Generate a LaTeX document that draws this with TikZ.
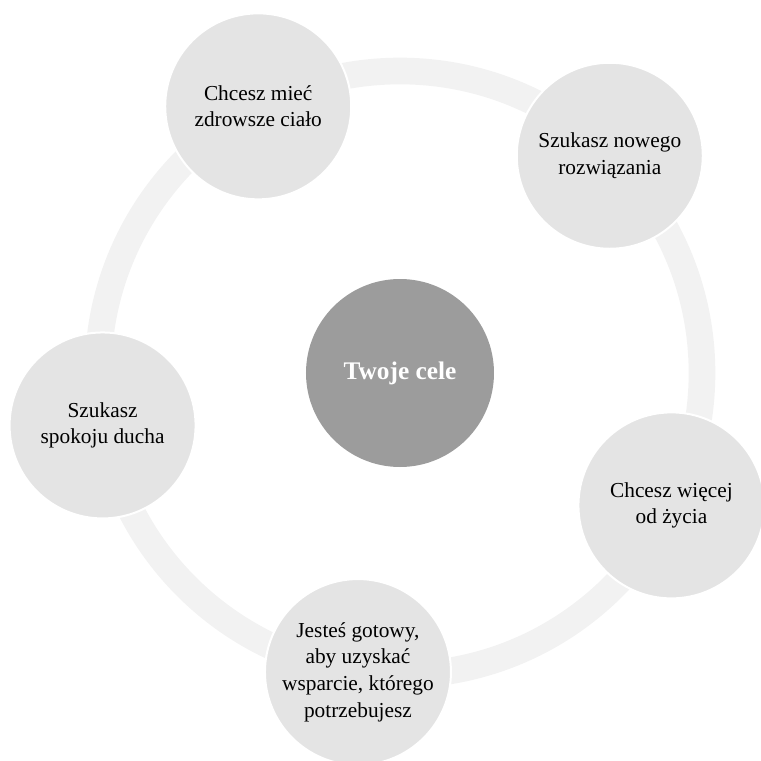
\documentclass[tikz,border=0pt]{standalone}
\usepackage{fontspec}
\setmainfont{Liberation Serif}
\usepackage{xcolor}
\usepackage{tikz}
\usetikzlibrary{positioning,calc}

\definecolor{ringgray}{HTML}{F2F2F2}
\definecolor{goalgray}{HTML}{E4E4E4}
\definecolor{coregray}{HTML}{9C9C9C}

\tikzset{
    goal/.style={circle, fill=goalgray, draw=white, line width=1.5pt,
        minimum size=139.5pt, inner sep=0pt, align=center,
        font=\fontsize{16}{20}\selectfont},
    core/.style={circle, fill=coregray, minimum size=141pt, inner sep=0pt,
        text=white, font=\fontsize{19}{20}\selectfont\bfseries},
    ring/.style={draw=ringgray, line width=20pt}
}

\begin{document}
\begin{tikzpicture}[x=0.75pt,y=0.75pt]
    \useasboundingbox (-400,-388) rectangle (361,373);

    % Centre
    \node[core] (cele) at (0,0) {Twoje cele};

    % Ring behind the goals
    \draw[ring] (cele.center) circle (302);

    % Goals
    \node[goal] (cialo) at (118:302) {Chcesz mieć\\zdrowsze ciało};
    \node[goal] (rozw) at (46:302) {Szukasz nowego\\rozwiązania};
    \node[goal] (zycie) at (-26:302) {Chcesz więcej\\od życia};
    \node[goal] (wsparcie) at (-98:302) {Jesteś gotowy,\\aby uzyskać\\wsparcie, którego\\potrzebujesz};
    \node[goal] (duch) at (190:302) {Szukasz\\spokoju ducha};
\end{tikzpicture}
\end{document}
